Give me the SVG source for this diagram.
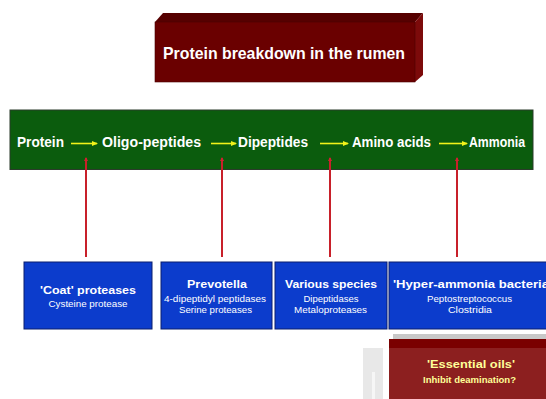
<svg xmlns="http://www.w3.org/2000/svg" width="546" height="399" viewBox="0 0 546 399">
<style>
.w{fill:#fff;font-family:"Liberation Sans",Arial,sans-serif;font-weight:bold}
.chain{font-size:14.5px}
.bt{font-size:11.5px;text-anchor:middle}
.st{fill:#fff;font-family:"Liberation Sans",Arial,sans-serif;font-size:9.5px;text-anchor:middle}
.box{fill:#0c3ccc;stroke:#0a1e6e;stroke-width:1}
.yl{stroke:#f2f21a;stroke-width:1.6;fill:none}
.rl{stroke:#c8202a;stroke-width:2;fill:none}
.eo{fill:#ffff99;font-family:"Liberation Sans",Arial,sans-serif;font-weight:bold;text-anchor:middle}
</style>
<defs>
<marker id="ya" markerWidth="6" markerHeight="6" refX="5" refY="3" orient="auto" markerUnits="userSpaceOnUse">
<path d="M0,0.5 L6,3 L0,5.5 Z" fill="#f2f21a"/>
</marker>
<marker id="ra" markerWidth="4" markerHeight="4" refX="3" refY="2" orient="auto" markerUnits="userSpaceOnUse">
<path d="M0,0 L4,2 L0,4 Z" fill="#d02030"/>
</marker>
</defs>
<rect width="546" height="399" fill="#fff"/>

<g id="title">
<polygon points="155,22 163,13 423,13 415,22" fill="#560000"/>
<polygon points="415,22 423,13 423,75 415,82" fill="#7c0a0a"/>
<rect x="155" y="22" width="260" height="60" fill="#6a0000" stroke="#4a0000" stroke-width="0.6"/>
<text class="w" x="284" y="59" font-size="16.5" text-anchor="middle" textLength="242" lengthAdjust="spacingAndGlyphs">Protein breakdown in the rumen</text>
</g>

<g id="chain">
<rect x="10" y="110" width="523" height="59.5" fill="#0b5c0d" stroke="#2b3b2b" stroke-width="1"/>
<text class="w chain" x="17" y="147" textLength="47" lengthAdjust="spacingAndGlyphs">Protein</text>
<text class="w chain" x="102" y="147" textLength="99" lengthAdjust="spacingAndGlyphs">Oligo-peptides</text>
<text class="w chain" x="238" y="147" textLength="70" lengthAdjust="spacingAndGlyphs">Dipeptides</text>
<text class="w chain" x="352" y="147" textLength="79" lengthAdjust="spacingAndGlyphs">Amino acids</text>
<text class="w chain" x="469" y="147" textLength="56" lengthAdjust="spacingAndGlyphs">Ammonia</text>
</g>

<g id="connectors">
<line class="yl" x1="71" y1="143.5" x2="97" y2="143.5" marker-end="url(#ya)"/>
<line class="yl" x1="211" y1="143.5" x2="236" y2="143.5" marker-end="url(#ya)"/>
<line class="yl" x1="320" y1="143.5" x2="348" y2="143.5" marker-end="url(#ya)"/>
<line class="yl" x1="439" y1="143.5" x2="467" y2="143.5" marker-end="url(#ya)"/>
<line class="rl" x1="86" y1="257" x2="86" y2="158" marker-end="url(#ra)"/>
<line class="rl" x1="222" y1="257" x2="222" y2="158" marker-end="url(#ra)"/>
<line class="rl" x1="330" y1="257" x2="330" y2="158" marker-end="url(#ra)"/>
<line class="rl" x1="457" y1="257" x2="457" y2="158" marker-end="url(#ra)"/>
</g>

<g id="coat">
<rect class="box" x="24" y="262" width="128" height="67"/>
<text class="w bt" x="88" y="294" textLength="96" lengthAdjust="spacingAndGlyphs">'Coat' proteases</text>
<text class="st" x="88" y="307" textLength="79" lengthAdjust="spacingAndGlyphs">Cysteine protease</text>
</g>

<g id="prevotella">
<rect class="box" x="161" y="262" width="111" height="67"/>
<text class="w bt" x="217" y="288" textLength="60" lengthAdjust="spacingAndGlyphs">Prevotella</text>
<text class="st" x="215" y="302" textLength="102" lengthAdjust="spacingAndGlyphs">4-dipeptidyl peptidases</text>
<text class="st" x="215.5" y="313" textLength="73" lengthAdjust="spacingAndGlyphs">Serine proteases</text>
</g>

<g id="various">
<rect class="box" x="275" y="262" width="112" height="67"/>
<text class="w bt" x="331" y="288" textLength="92" lengthAdjust="spacingAndGlyphs">Various species</text>
<text class="st" x="331" y="302" textLength="55" lengthAdjust="spacingAndGlyphs">Dipeptidases</text>
<text class="st" x="330.5" y="313" textLength="73" lengthAdjust="spacingAndGlyphs">Metaloproteases</text>
</g>

<g id="hyper">
<rect class="box" x="389" y="262" width="162" height="67"/>
<text class="w" x="393" y="288" font-size="11.5" textLength="156" lengthAdjust="spacingAndGlyphs">'Hyper-ammonia bacteria</text>
<text class="st" x="469.5" y="302" textLength="85" lengthAdjust="spacingAndGlyphs">Peptostreptococcus</text>
<text class="st" x="470" y="313" textLength="44" lengthAdjust="spacingAndGlyphs">Clostridia</text>
</g>

<g id="artifact">
<rect x="363" y="348" width="20" height="51" fill="#e8e8e8"/>
<rect x="372" y="372" width="3" height="27" fill="#f6f6f6"/>
</g>

<g id="essential">
<rect x="393" y="334" width="153" height="5" fill="#c8c8c8"/>
<rect x="389" y="339" width="157" height="60" fill="#8c1f1f"/>
<rect x="389" y="339" width="157" height="9" fill="#7a0000"/>
<text class="eo" x="471" y="368" font-size="11" textLength="88" lengthAdjust="spacingAndGlyphs">'Essential oils'</text>
<text class="eo" x="469.5" y="383" font-size="9.5" textLength="93" lengthAdjust="spacingAndGlyphs">Inhibit deamination?</text>
</g>
</svg>
